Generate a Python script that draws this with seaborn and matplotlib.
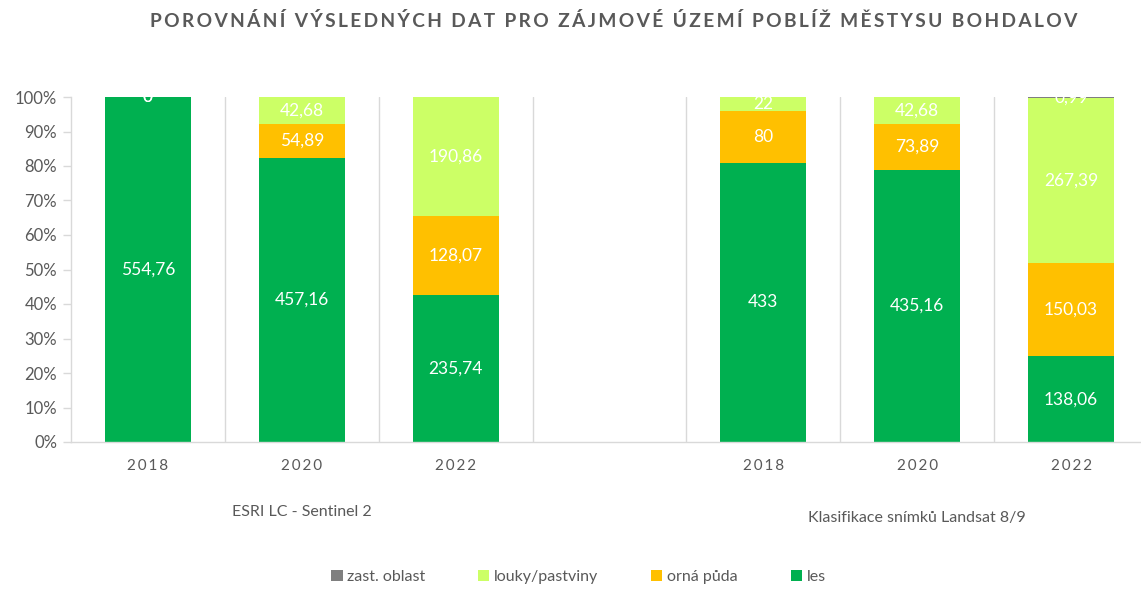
import numpy as np
import pandas as pd
import matplotlib
matplotlib.use("Agg")
import matplotlib.pyplot as plt
from matplotlib.patches import Patch
import seaborn as sns

# ---- data ----
slots = ["E2018", "E2020", "E2022", "gap", "L2018", "L2020", "L2022"]
tick_labels = ["2018", "2020", "2022", "", "2018", "2020", "2022"]
les = [554.76, 457.16, 235.74, np.nan, 433, 435.16, 138.06]
orna_puda = [0, 54.89, 128.07, np.nan, 80, 73.89, 150.03]
louky = [0, 42.68, 190.86, np.nan, 22, 42.68, 267.39]
zast_oblast = [np.nan, np.nan, np.nan, np.nan, np.nan, np.nan, 0.99]
group_labels = ["ESRI LC - Sentinel 2", "Klasifikace snímků Landsat 8/9"]
series_names = ["les", "orná půda", "louky/pastviny", "zast. oblast"]
colors = {"les": "#00B050", "orná půda": "#FFC000",
          "louky/pastviny": "#CCFF66", "zast. oblast": "#7F7F7F"}
title = "POROVNÁNÍ VÝSLEDNÝCH DAT PRO ZÁJMOVÉ ÚZEMÍ POBLÍŽ MĚSTYSU BOHDALOV"

df = pd.DataFrame({"slot": slots, "les": les, "orná půda": orna_puda,
                   "louky/pastviny": louky, "zast. oblast": zast_oblast})
vals = df[series_names]
total = vals.sum(axis=1, min_count=1)
pct = vals.div(total, axis=0)
cum = pct.fillna(0).cumsum(axis=1)
bottom = cum - pct.fillna(0)
for s in series_names:
    cum.loc[pct[s].isna(), s] = np.nan
    df["cum_" + s] = cum[s]

sns.set_style("white")
plt.rcParams["font.family"] = ["Lato", "DejaVu Sans"]

fig = plt.figure(figsize=(11.41, 5.90), dpi=100)
ax = fig.add_axes([71 / 1141, 1 - 442 / 590, 1077 / 1141, 345 / 590])

# draw from top layer down so lower layers overlay
for s in reversed(series_names):
    sns.barplot(data=df, x="slot", y="cum_" + s, order=slots, color=colors[s],
                width=0.56, saturation=1, errorbar=None, ax=ax, zorder=2,
                linewidth=0, edgecolor="none")

# make the thin top segment visible as a line like the original
for s in ["zast. oblast"]:
    pass

# data labels
for s in series_names:
    for i, slot in enumerate(slots):
        v = vals[s].iloc[i]
        if pd.isna(v):
            continue
        y = bottom[s].iloc[i] + pct[s].iloc[i] / 2
        ax.text(i, y, f"{v:g}".replace(".", ","), ha="center", va="center",
                color="white", fontsize=12.5, clip_on=True, zorder=5)

ax.set_xlim(-0.5, 6.5)
ax.set_ylim(0, 1)
ax.set_yticks(np.arange(0, 1.01, 0.1))
ax.set_yticklabels([f"{int(round(t * 100))}%" for t in np.arange(0, 1.01, 0.1)],
                   color="#595959", fontsize=12)
ax.set_xticks(range(len(slots)))
ax.set_xticklabels(["\u2009".join(list(t)) for t in tick_labels],
                   color="#595959", fontsize=11)
ax.set_xticks(np.arange(0.5, 6, 1), minor=True)
ax.tick_params(axis="x", which="major", length=0, pad=12)
ax.tick_params(axis="x", which="minor", length=7, color="#D9D9D9", width=1)
ax.tick_params(axis="y", which="major", length=6, color="#D9D9D9", width=1,
               left=True, pad=4)
ax.grid(axis="x", which="minor", color="#D9D9D9", linewidth=1, zorder=0)
ax.grid(axis="y", visible=False)
ax.set_xlabel("")
ax.set_ylabel("")
for side in ["top", "right"]:
    ax.spines[side].set_visible(False)
for side in ["left", "bottom"]:
    ax.spines[side].set_color("#D9D9D9")
    ax.spines[side].set_linewidth(1)
ax.set_axisbelow(True)

# group labels
trans = matplotlib.transforms.blended_transform_factory(ax.transData, ax.transAxes)
ax.text(1, -0.203, group_labels[0], transform=trans, ha="center", va="center",
        color="#595959", fontsize=11.5)
ax.text(5, -0.22, group_labels[1], transform=trans, ha="center", va="center",
        color="#595959", fontsize=11.5)

# title
fig.text(0.538, 0.965, "\u2009".join(list(title)), ha="center", va="center",
         color="#595959", fontsize=13.8, fontweight="bold",
         family=["Lato", "DejaVu Sans"])

# legend
order = ["zast. oblast", "louky/pastviny", "orná půda", "les"]
handles = [Patch(facecolor=colors[n], edgecolor="none") for n in order]
fig.legend(handles, order, loc="center", bbox_to_anchor=(0.507, 0.022), ncol=4,
           frameon=False, fontsize=11.5, handlelength=0.7, handleheight=0.7,
           handletextpad=0.3, columnspacing=3.3, labelcolor="#595959")

fig.savefig("out.png", dpi=100)
